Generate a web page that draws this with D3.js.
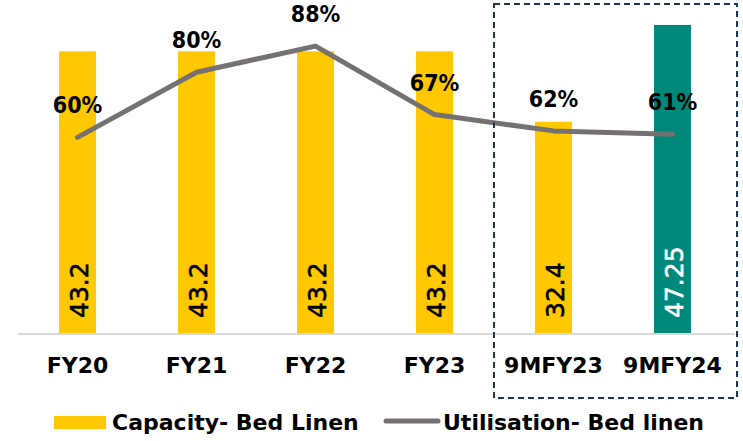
<!DOCTYPE html>
<html>
<head>
<meta charset="utf-8">
<script src="https://cdn.jsdelivr.net/npm/d3@7"></script>
<style>
  body { margin: 0; background: #fff; }
  svg { display: block; }
</style>
</head>
<body>
<div id="chart"></div>
<script>
const categories = ['FY20', 'FY21', 'FY22', 'FY23', '9MFY23', '9MFY24'];
const capacity = [43.2, 43.2, 43.2, 43.2, 32.4, 47.25];
const capacityLabels = ['43.2', '43.2', '43.2', '43.2', '32.4', '47.25'];
const utilisation = [60, 80, 88, 67, 62, 61];
const highlightIndex = 5;

const width = 743, height = 441;
const svg = d3.select('#chart').append('svg')
    .attr('width', width)
    .attr('height', height);

const x = d3.scaleBand()
    .domain(categories)
    .range([18, 732])
    .paddingInner(0.689)
    .paddingOuter(0.3445);

const yBar = d3.scaleLinear().domain([0, 50]).range([333, 7]);
const yLine = d3.scaleLinear().domain([0, 100]).range([333, 7]);

const cx = d => x(d) + x.bandwidth() / 2;

// bars
svg.selectAll('.bar')
    .data(categories)
    .enter().append('rect')
    .attr('class', 'bar')
    .attr('x', d => x(d))
    .attr('y', (d, i) => yBar(capacity[i]))
    .attr('width', x.bandwidth())
    .attr('height', (d, i) => yBar(0) - yBar(capacity[i]))
    .attr('fill', (d, i) => i === highlightIndex ? '#00887a' : '#ffc800');

// axis
const axis = svg.append('g')
    .attr('transform', `translate(0,${yBar(0) + 1})`)
    .call(d3.axisBottom(x).tickSize(0));
axis.select('.domain')
    .attr('d', 'M18,0H735')
    .attr('stroke', '#d9d9d9')
    .attr('stroke-width', 2);
axis.selectAll('text')
    .attr('y', 39)
    .attr('dy', 0)
    .attr('fill', '#000')
    .style('font-family', '"DejaVu Sans", sans-serif')
    .style('font-weight', 'bold')
    .style('font-size', '22px');

// bar value labels
svg.selectAll('.bar-label')
    .data(categories)
    .enter().append('text')
    .attr('class', 'bar-label')
    .attr('transform', (d, i) => `translate(${cx(d) + 10},${yBar(0) - 15}) rotate(-90)`)
    .attr('fill', (d, i) => i === highlightIndex ? '#fff' : '#000')
    .attr('stroke', (d, i) => i === highlightIndex ? '#fff' : '#000')
    .attr('stroke-width', 0.6)
    .style('font-family', '"DejaVu Sans", sans-serif')
    .style('font-size', '25px')
    .text((d, i) => capacityLabels[i]);

// utilisation line
const line = d3.line()
    .x((d, i) => cx(categories[i]))
    .y(d => yLine(d));

svg.append('path')
    .datum(utilisation)
    .attr('d', line)
    .attr('fill', 'none')
    .attr('stroke', '#767171')
    .attr('stroke-width', 5)
    .attr('stroke-linecap', 'round')
    .attr('stroke-linejoin', 'round');

svg.selectAll('.pct-label')
    .data(utilisation)
    .enter().append('text')
    .attr('class', 'pct-label')
    .attr('x', (d, i) => cx(categories[i]))
    .attr('y', d => yLine(d) - 24)
    .attr('text-anchor', 'middle')
    .style('font-family', '"DejaVu Sans Condensed", "DejaVu Sans", sans-serif')
    .style('font-weight', 'bold')
    .style('font-size', '23px')
    .style('font-stretch', 'condensed')
    .text(d => d + '%');

// highlight box around 9M periods
svg.append('rect')
    .attr('x', 494)
    .attr('y', 4)
    .attr('width', 243)
    .attr('height', 394)
    .attr('fill', 'none')
    .attr('stroke', '#1f3450')
    .attr('stroke-width', 2)
    .attr('stroke-dasharray', '6,4');

// legend
const legend = svg.append('g').attr('transform', 'translate(0,430)');
legend.append('rect')
    .attr('x', 54).attr('y', -14)
    .attr('width', 52).attr('height', 13)
    .attr('fill', '#ffc800');
legend.append('text')
    .attr('x', 112).attr('y', 0)
    .style('font-family', '"DejaVu Sans", sans-serif')
    .style('font-weight', 'bold')
    .style('font-size', '22px')
    .text('Capacity- Bed Linen');
legend.append('line')
    .attr('x1', 386).attr('x2', 438)
    .attr('y1', -9).attr('y2', -9)
    .attr('stroke', '#767171')
    .attr('stroke-width', 5)
    .attr('stroke-linecap', 'round');
legend.append('text')
    .attr('x', 443).attr('y', 0)
    .style('font-family', '"DejaVu Sans", sans-serif')
    .style('font-weight', 'bold')
    .style('font-size', '22px')
    .text('Utilisation- Bed linen');
</script>
</body>
</html>
